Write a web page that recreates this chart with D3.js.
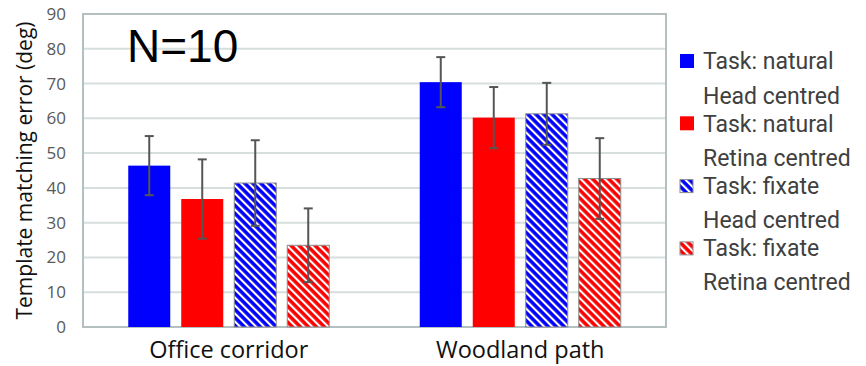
<!DOCTYPE html>
<html>
<head>
<meta charset="utf-8">
<script src="https://cdn.jsdelivr.net/npm/d3@7"></script>
<style>
  html, body { margin: 0; padding: 0; background: #fff; }
  svg { display: block; }
</style>
</head>
<body>
<svg id="chart" width="866" height="366"></svg>
<script>
// Scenes on the x axis
const categories = ["Office corridor", "Woodland path"];
// Condition series (task / reference frame)
const seriesKeys = ["natHead", "natRetina", "fixHead", "fixRetina"];
const seriesLine1 = ["Task: natural", "Task: natural", "Task: fixate", "Task: fixate"];
const seriesLine2 = ["Head centred", "Retina centred", "Head centred", "Retina centred"];
// Mean template matching error (deg), one array per series, in category order
const natHead   = [46.4, 70.4];
const natRetina = [36.8, 60.2];
const fixHead   = [41.4, 61.3];
const fixRetina = [23.5, 42.7];
// Error bar half-lengths (deg)
const natHeadErr   = [8.5, 7.2];
const natRetinaErr = [11.4, 8.8];
const fixHeadErr   = [12.3, 8.9];
const fixRetinaErr = [10.6, 11.6];
const yTicks = [0, 10, 20, 30, 40, 50, 60, 70, 80, 90];
const annotation = "N=10";
const yTitle = "Template matching error (deg)";

const values = [natHead, natRetina, fixHead, fixRetina];
const errors = [natHeadErr, natRetinaErr, fixHeadErr, fixRetinaErr];

const svg = d3.select("#chart");
const plot = { left: 83, right: 666, top: 14, bottom: 327 };
const font = "Open Sans, sans-serif";
const legendFont = "Roboto, Open Sans, sans-serif";

const x = d3.scaleBand().domain(categories).range([plot.left, plot.right]);
const groupWidth = 201;
const xs = d3.scaleBand().domain(seriesKeys)
  .range([(x.bandwidth() - groupWidth) / 2, (x.bandwidth() + groupWidth) / 2])
  .paddingInner(0.2075);
const y = d3.scaleLinear().domain([0, 90]).range([plot.bottom, plot.top]);

// Fills: solid for natural task, diagonal stripes for fixate task
const defs = svg.append("defs");
function stripes(id, color) {
  const p = defs.append("pattern")
    .attr("id", id)
    .attr("patternUnits", "userSpaceOnUse")
    .attr("width", 5.66).attr("height", 5.66)
    .attr("patternTransform", "rotate(-45)");
  p.append("rect").attr("width", 5.66).attr("height", 5.66).attr("fill", color);
  p.append("rect").attr("width", 2.1).attr("height", 5.66).attr("fill", "#fff");
}
stripes("hatchBlue", "#0000ff");
stripes("hatchRed", "#ff0000");
const fills = ["#0000ff", "#ff0000", "url(#hatchBlue)", "url(#hatchRed)"];
const strokes = [null, null, "#8c8c8c", "#8c8c8c"];

// Gridlines
svg.append("g").selectAll("line").data(yTicks.slice(1, -1)).join("line")
  .attr("x1", plot.left).attr("x2", plot.right)
  .attr("y1", d => y(d)).attr("y2", d => y(d))
  .attr("stroke", "#d6dede").attr("stroke-width", 2);

// Plot frame
svg.append("rect")
  .attr("x", plot.left).attr("y", plot.top)
  .attr("width", plot.right - plot.left).attr("height", plot.bottom - plot.top)
  .attr("fill", "none").attr("stroke", "#b4c0c0").attr("stroke-width", 2);

// Y axis tick labels
const yAxis = d3.axisLeft(y).tickValues(yTicks).tickSize(0).tickPadding(17);
const yg = svg.append("g").attr("transform", `translate(${plot.left},0)`).call(yAxis);
yg.select(".domain").remove();
yg.selectAll("text")
  .attr("font-family", font)
  .attr("font-size", 17).attr("fill", "#595959");

// Bars
const rows = [];
categories.forEach((c, ci) => seriesKeys.forEach((k, si) => {
  rows.push({ c, k, si, v: values[si][ci], e: errors[si][ci] });
}));
const bars = svg.append("g");
bars.selectAll("rect").data(rows).join("rect")
  .attr("x", d => x(d.c) + xs(d.k))
  .attr("y", d => y(d.v))
  .attr("width", xs.bandwidth())
  .attr("height", d => y(0) - y(d.v))
  .attr("fill", d => fills[d.si])
  .attr("stroke", d => strokes[d.si])
  .attr("stroke-width", 1);

// Error bars
const eb = svg.append("g").attr("stroke", "#555").attr("stroke-width", 2);
rows.forEach(d => {
  const cx = x(d.c) + xs(d.k) + xs.bandwidth() / 2;
  eb.append("line").attr("x1", cx).attr("x2", cx)
    .attr("y1", y(d.v + d.e)).attr("y2", y(d.v - d.e));
  [d.v + d.e, d.v - d.e].forEach(t => {
    eb.append("line").attr("x1", cx - 4.5).attr("x2", cx + 4.5)
      .attr("y1", y(t)).attr("y2", y(t));
  });
});

// Category labels
svg.append("g").selectAll("text").data(categories).join("text")
  .attr("x", d => x(d) + x.bandwidth() / 2)
  .attr("y", 358)
  .attr("text-anchor", "middle")
  .attr("font-family", font)
  .attr("font-size", 23.5).attr("fill", "#111")
  .text(d => d);

// Y axis title
svg.append("text")
  .attr("transform", `translate(32,${(plot.top + plot.bottom) / 2}) rotate(-90)`)
  .attr("text-anchor", "middle")
  .attr("font-family", font)
  .attr("font-size", 21).attr("fill", "#111")
  .text(yTitle);

// Sample size annotation
svg.append("text")
  .attr("x", 127).attr("y", 62)
  .attr("font-family", "Liberation Sans, Arial, sans-serif")
  .attr("font-size", 46).attr("fill", "#000")
  .text(annotation);

// Legend: swatch plus two-line label per series
const lg = svg.append("g");
seriesKeys.forEach((k, i) => {
  const top = 54 + i * 62.3;
  lg.append("rect")
    .attr("x", 680).attr("y", top + (i >= 2 ? 1 : 0))
    .attr("width", i >= 2 ? 13 : 14).attr("height", i >= 2 ? 13 : 14)
    .attr("fill", fills[i])
    .attr("stroke", strokes[i]).attr("stroke-width", 1);
  lg.append("text").attr("x", 703).attr("y", top + 15.3)
    .attr("font-family", legendFont).attr("font-size", 23)
    .attr("fill", "#404040").text(seriesLine1[i]);
  lg.append("text").attr("x", 703).attr("y", top + 49.5)
    .attr("font-family", legendFont).attr("font-size", 23)
    .attr("fill", "#404040").text(seriesLine2[i]);
});
</script>
</body>
</html>
